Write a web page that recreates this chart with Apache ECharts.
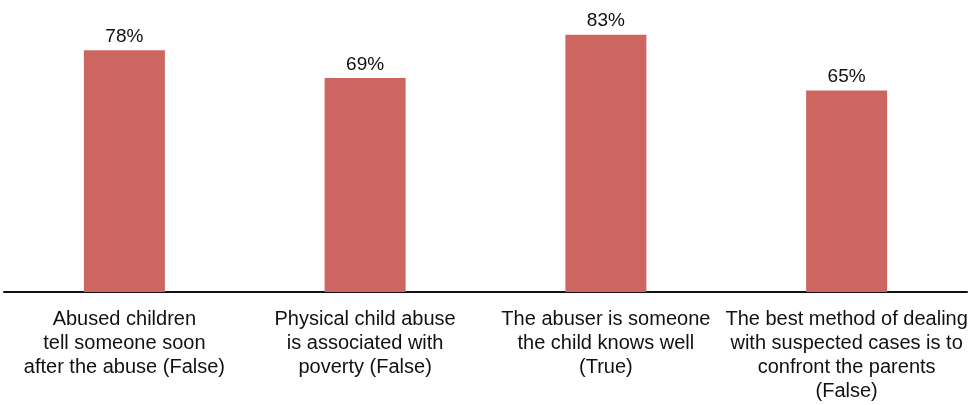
<!DOCTYPE html>
<html>
<head>
<meta charset="utf-8">
<script src="https://cdn.jsdelivr.net/npm/echarts@6/dist/echarts.min.js"></script>
<style>
  html, body { margin: 0; padding: 0; background: #fff; }
  #main { width: 972px; height: 405px; }
</style>
</head>
<body>
<div id="main"></div>
<script>
// statements about child abuse, share of correct answers
var categories = [
    'Abused children\ntell someone soon\nafter the abuse (False)',
    'Physical child abuse\nis associated with\npoverty (False)',
    'The abuser is someone\nthe child knows well\n(True)',
    'The best method of dealing\nwith suspected cases is to\nconfront the parents\n(False)'
];
var correctPct = [78, 69, 83, 65];

var myChart = echarts.init(document.getElementById('main'));
var option = {
    backgroundColor: '#fff',
    animation: false,
    textStyle: { fontFamily: '"Liberation Sans", Arial, sans-serif' },
    grid: { left: 4, right: 5, top: 13, bottom: 113, containLabel: false },
    xAxis: {
        type: 'category',
        data: categories,
        axisLine: { lineStyle: { color: '#111', width: 2 } },
        axisTick: { show: false },
        axisLabel: {
            interval: 0,
            hideOverlap: false,
            color: '#111',
            fontSize: 20,
            lineHeight: 24,
            margin: 15,
            align: 'center'
        }
    },
    yAxis: {
        type: 'value',
        min: 0,
        max: 90,
        show: false,
        splitLine: { show: false }
    },
    series: [{
        type: 'bar',
        data: correctPct,
        barWidth: 81,
        itemStyle: { color: '#cd6660' },
        label: {
            show: true,
            position: 'top',
            distance: 4,
            formatter: '{c}%',
            color: '#111',
            fontSize: 19,
            lineHeight: 19
        }
    }]
};
myChart.setOption(option);
</script>
</body>
</html>
